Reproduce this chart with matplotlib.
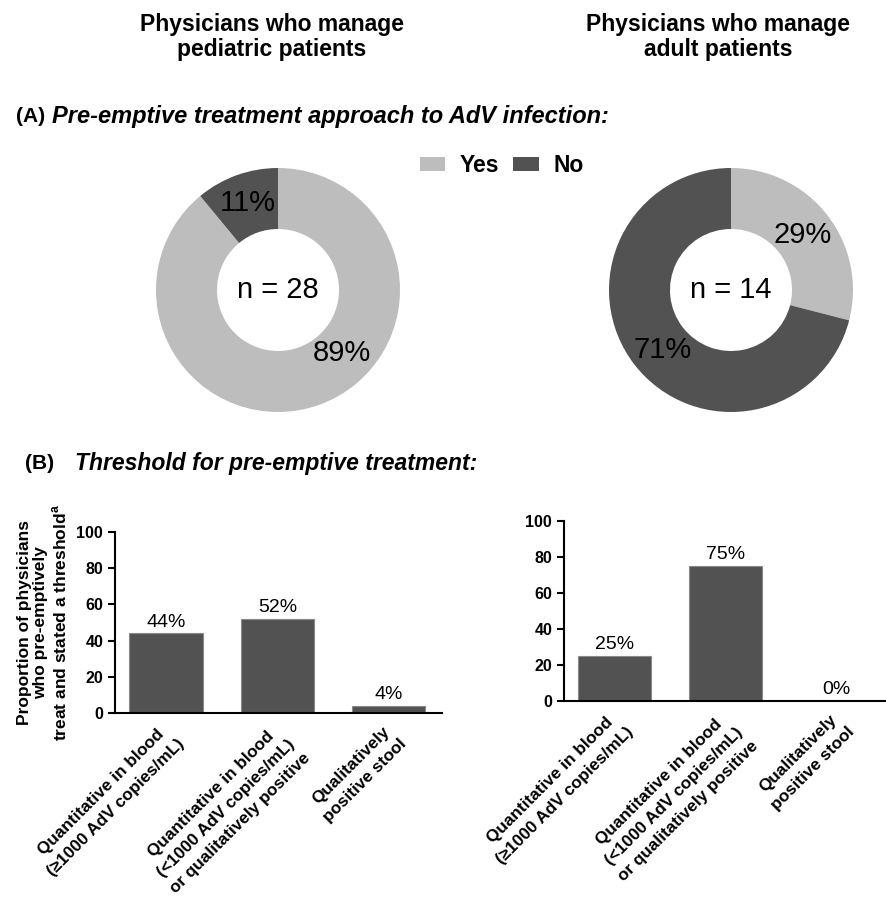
import matplotlib.pyplot as plt
from matplotlib.patches import Patch
from matplotlib.transforms import ScaledTranslation

plt.rcParams['font.family'] = ['Liberation Sans', 'DejaVu Sans']

# data
pie_labels = ["Yes", "No"]
peds_pie = [89, 11]
adult_pie = [29, 71]
peds_n = 28
adult_n = 14
categories = ["Quantitative in blood\n(\u22651000 AdV copies/mL)",
              "Quantitative in blood\n(<1000 AdV copies/mL)\nor qualitatively positive",
              "Qualitatively\npositive stool"]
peds_bars = [44, 52, 4]
adult_bars = [25, 75, 0]

light = "#bdbdbd"
dark = "#525252"

W, H = 887, 905
fig = plt.figure(figsize=(W / 100, H / 100), dpi=100)


def fig_box(x0, y0, x1, y1):
    # pixel box (top-left origin) -> figure fraction rect
    return [x0 / W, 1 - y1 / H, (x1 - x0) / W, (y1 - y0) / H]


# headers
fig.text(272 / W, 1 - 37 / H, "Physicians who manage\npediatric patients", ha='center', va='center',
         fontsize=16.5, fontweight='bold', linespacing=1.15)
fig.text(718 / W, 1 - 37 / H, "Physicians who manage\nadult patients", ha='center', va='center',
         fontsize=16.5, fontweight='bold', linespacing=1.15)
fig.text(16 / W, 1 - 116 / H, "(A)", ha='left', va='center', fontsize=15, fontweight='bold')
fig.text(52 / W, 1 - 116 / H, "Pre-emptive treatment approach to AdV infection:", ha='left', va='center',
         fontsize=17, fontweight='bold', style='italic')
fig.text(25 / W, 1 - 463 / H, "(B)", ha='left', va='center', fontsize=15, fontweight='bold')
fig.text(75 / W, 1 - 463 / H, "Threshold for pre-emptive treatment:", ha='left', va='center',
         fontsize=16.5, fontweight='bold', style='italic')


def donut(cx, cy, vals, n, pos):
    r = 122
    ax = fig.add_axes(fig_box(cx - r, cy - r, cx + r, cy + r))
    ax.pie(vals, colors=[light, dark], startangle=90, counterclock=False,
           radius=1, wedgeprops=dict(width=0.5, edgecolor='none'))
    ax.set_xlim(-1, 1)
    ax.set_ylim(-1, 1)
    ax.set_aspect('equal')
    ax.axis('off')
    for v, (x, y) in zip(vals, pos):
        ax.text(x, y, f"{v}%", ha='center', va='center', fontsize=21)
    ax.text(0, 0, f"n = {n}", ha='center', va='center', fontsize=21)
    return ax


donut(278, 290, peds_pie, peds_n, [(0.52, -0.52), (-0.25, 0.71)])
donut(731, 290, adult_pie, adult_n, [(0.59, 0.45), (-0.56, -0.49)])

handles = [Patch(facecolor=light), Patch(facecolor=dark)]
fig.legend(handles, pie_labels, loc='center left', bbox_to_anchor=(420 / W, 1 - 166 / H), ncol=2,
           frameon=False, prop=dict(weight='bold', size=16.5), handlelength=1.1,
           handleheight=0.55, handletextpad=0.65, columnspacing=0.6, borderaxespad=0, borderpad=0)


def bars(box, vals, xmax):
    ax = fig.add_axes(fig_box(*box))
    x = range(len(vals))
    ax.bar(x, vals, width=0.66, color=dark, edgecolor='#8a8a8a', linewidth=0.8)
    for i, v in zip(x, vals):
        ax.text(i, v + 1.5, f"{v}%", ha='center', va='bottom', fontsize=14)
    ax.set_xlim(-0.46, xmax)
    ax.set_ylim(0, 100)
    ax.set_yticks([0, 20, 40, 60, 80, 100])
    ax.spines['top'].set_visible(False)
    ax.spines['right'].set_visible(False)
    ax.spines['left'].set_linewidth(1.5)
    ax.spines['bottom'].set_linewidth(1.5)
    ax.tick_params(axis='y', direction='out', length=5, width=1.5, labelsize=11.5)
    ax.tick_params(axis='x', length=0, pad=6)
    for lab in ax.get_yticklabels():
        lab.set_fontweight('bold')
    ax.set_xticks(list(x))
    ax.set_xticklabels(categories, rotation=45, ha='right', va='top', rotation_mode='anchor',
                       multialignment='center', fontsize=12.3, fontweight='bold', linespacing=1.45)
    shift = ScaledTranslation(-4 / 100, 0, fig.dpi_scale_trans)
    for lab in ax.get_xticklabels():
        lab.set_transform(lab.get_transform() + shift)
    return ax


axl = bars((115, 532, 442, 713), peds_bars, 2.48)
axl.set_ylabel("Proportion of physicians\nwho pre-emptively\ntreat and stated a threshold$^{\\mathregular{a}}$",
               fontsize=12.5, fontweight='bold', linespacing=1.15, labelpad=5)
bars((564, 521, 887, 701), adult_bars, 2.46)

fig.savefig("out.png", dpi=100, facecolor='white')
